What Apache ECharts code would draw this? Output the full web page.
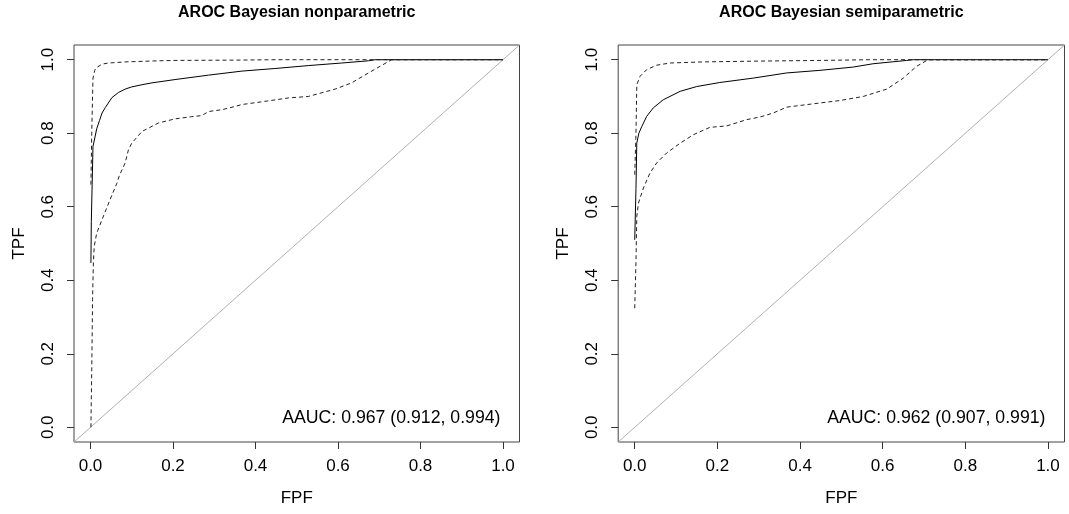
<!DOCTYPE html>
<html>
<head>
<meta charset="utf-8">
<script src="https://cdn.jsdelivr.net/npm/echarts@6/dist/echarts.min.js"></script>
<style>
  html, body { margin: 0; padding: 0; background: #fff; }
  #chart { width: 1069px; height: 514px; }
</style>
</head>
<body>
<div id="chart"></div>
<script>
// ---- Data ----
const titles = ['AROC Bayesian nonparametric', 'AROC Bayesian semiparametric'];
const aaucTexts = ['AAUC: 0.967 (0.912, 0.994)', 'AAUC: 0.962 (0.907, 0.991)'];
const tickValues = [0, 0.2, 0.4, 0.6, 0.8, 1.0];
const axisRange = [-0.04, 1.04];

// Nonparametric: [FPF, TPF]
const npMean = [[0.001,0.447],[0.002,0.56],[0.004,0.66],[0.006,0.764],[0.011,0.790],[0.015,0.812],[0.022,0.835],[0.028,0.855],[0.036,0.870],[0.052,0.897],[0.068,0.911],[0.084,0.920],[0.100,0.926],[0.125,0.932],[0.149,0.937],[0.205,0.946],[0.286,0.958],[0.367,0.969],[0.447,0.976],[0.528,0.984],[0.609,0.991],[0.674,0.997],[0.690,1.0],[1.0,1.0]];
const npUpper = [[0.001,0.66],[0.003,0.80],[0.006,0.95],[0.010,0.970],[0.013,0.977],[0.028,0.988],[0.044,0.991],[0.084,0.994],[0.164,0.997],[0.205,0.998],[0.367,0.999],[0.45,1.0],[1.0,1.0]];
const npLower = [[0.001,0.0],[0.002,0.08],[0.003,0.156],[0.005,0.347],[0.007,0.448],[0.009,0.492],[0.015,0.528],[0.028,0.565],[0.044,0.610],[0.064,0.664],[0.070,0.685],[0.084,0.719],[0.092,0.755],[0.100,0.773],[0.125,0.805],[0.165,0.828],[0.205,0.839],[0.245,0.845],[0.270,0.848],[0.286,0.859],[0.318,0.864],[0.334,0.868],[0.367,0.878],[0.431,0.888],[0.480,0.896],[0.528,0.900],[0.593,0.920],[0.633,0.937],[0.674,0.964],[0.730,1.0],[1.0,1.0]];

// Semiparametric: [FPF, TPF]
const spMean = [[0.0,0.51],[0.003,0.65],[0.005,0.773],[0.010,0.800],[0.017,0.818],[0.029,0.846],[0.045,0.869],[0.069,0.891],[0.110,0.914],[0.150,0.927],[0.206,0.938],[0.287,0.950],[0.368,0.964],[0.448,0.971],[0.529,0.980],[0.577,0.989],[0.658,0.998],[0.674,1.0],[1.0,1.0]];
const spUpper = [[0.0,0.687],[0.003,0.80],[0.005,0.932],[0.013,0.955],[0.029,0.973],[0.053,0.985],[0.085,0.991],[0.166,0.994],[0.287,0.996],[0.448,0.998],[0.569,1.0],[1.0,1.0]];
const spLower = [[0.0,0.324],[0.003,0.45],[0.005,0.574],[0.009,0.610],[0.021,0.651],[0.037,0.692],[0.053,0.719],[0.077,0.746],[0.110,0.773],[0.142,0.796],[0.182,0.816],[0.223,0.820],[0.271,0.837],[0.303,0.844],[0.335,0.855],[0.368,0.871],[0.432,0.880],[0.497,0.889],[0.553,0.900],[0.610,0.920],[0.650,0.950],[0.682,0.982],[0.710,1.0],[1.0,1.0]];

const diagonal = [[axisRange[0], axisRange[0]], [axisRange[1], axisRange[1]]];

// ---- Layout / style ----
const FONT = 'Liberation Sans, Arial, sans-serif';
const grids = [
  { left: 74, top: 45, width: 445.5, height: 397 },
  { left: 618.2, top: 45, width: 446.3, height: 397 }
];

const chart = echarts.init(document.getElementById('chart'), null, { renderer: 'canvas' });

function xAxis(i) {
  return {
    type: 'value', gridIndex: i, min: axisRange[0], max: axisRange[1], position: 'bottom',
    axisLine: { show: false, onZero: false }, splitLine: { show: false },
    axisTick: { show: true, customValues: tickValues, length: 7, lineStyle: { color: '#333', width: 1 } },
    axisLabel: { customValues: tickValues, formatter: v => v.toFixed(1), fontSize: 17, color: '#000', margin: 16, fontFamily: FONT },
    name: 'FPF', nameLocation: 'middle', nameGap: 48,
    nameTextStyle: { fontSize: 17, color: '#000', fontFamily: FONT }
  };
}
function yAxis(i) {
  return {
    type: 'value', gridIndex: i, min: axisRange[0], max: axisRange[1], position: 'left',
    axisLine: { show: false, onZero: false }, splitLine: { show: false },
    axisTick: { show: true, customValues: tickValues, length: 7, lineStyle: { color: '#333', width: 1 } },
    axisLabel: { customValues: tickValues, formatter: v => v.toFixed(1), fontSize: 17, color: '#000', margin: 17, rotate: 90, fontFamily: FONT },
    name: 'TPF', nameLocation: 'middle', nameGap: 46, nameRotate: 90,
    nameTextStyle: { fontSize: 17, color: '#000', fontFamily: FONT }
  };
}
function lineSeries(i, data, dashed, color, width) {
  return {
    type: 'line', xAxisIndex: i, yAxisIndex: i, data: data,
    showSymbol: false, symbol: 'none', smooth: false, silent: true,
    lineStyle: { color: color, width: width, type: dashed ? [4, 3] : 'solid' },
    z: 3
  };
}

const panels = [[npMean, npUpper, npLower], [spMean, spUpper, spLower]];
const series = [];
panels.forEach((p, i) => {
  series.push(lineSeries(i, diagonal, false, '#b0b0b0', 1));
  series.push(lineSeries(i, p[0], false, '#000', 1));
  series.push(lineSeries(i, p[1], true, '#222', 1));
  series.push(lineSeries(i, p[2], true, '#222', 1));
});

chart.setOption({
  animation: false,
  backgroundColor: '#fff',
  title: titles.map((t, i) => ({
    text: t, left: grids[i].left + grids[i].width / 2, top: 5, textAlign: 'center', padding: 0,
    textStyle: { fontSize: 16, fontWeight: 'bold', color: '#000', fontFamily: FONT }
  })),
  grid: grids.map(g => Object.assign({ show: true, borderColor: '#444', borderWidth: 1, backgroundColor: 'transparent', containLabel: false }, g)),
  xAxis: [xAxis(0), xAxis(1)],
  yAxis: [yAxis(0), yAxis(1)],
  series: series
});

// AAUC annotations placed at data position bottom-right of each panel
const graphics = aaucTexts.map((t, i) => {
  const pt = chart.convertToPixel({ gridIndex: i }, [axisRange[1], 0.025]);
  return {
    type: 'text', x: pt[0] - 19, y: pt[1],
    style: { text: t, align: 'right', verticalAlign: 'middle', fontSize: 17.7, fontFamily: FONT, fill: '#000' },
    z: 10
  };
});
chart.setOption({ graphic: graphics });
</script>
</body>
</html>
